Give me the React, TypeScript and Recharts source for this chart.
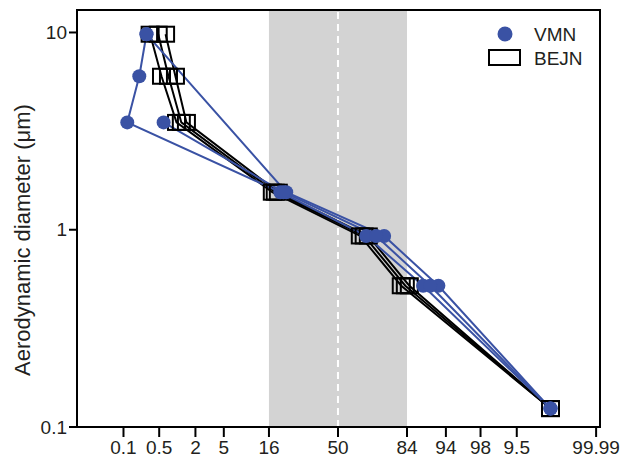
import { ComposedChart, Legend, Line, ReferenceArea, ReferenceLine, XAxis, YAxis } from "recharts";

// stage cut-off diameters (µm), top to bottom
const diameters = [9.8, 6.0, 3.5, 1.55, 0.93, 0.52, 0.124];

// cumulative % undersize per sample, null = not plotted
const vmnA = [0.29, 0.21, 0.12, 20.3, 65.8, 89.0, 99.89];
const vmnB = [0.29, null, null, 22.8, 74.7, 92.6, 99.89];
const vmnC = [null, null, 0.6, 21.6, 70.9, 90.8, 99.89];

const bejnA = [0.34, 0.55, 1.0, 17.2, 62.6, 81.9, 99.89];
const bejnB = [0.48, 0.73, 1.2, 18.3, 64.7, 83.4, 99.89];
const bejnC = [0.65, 0.96, 1.45, 19.5, 66.9, 84.8, 99.89];

const xTickValues = [0.1, 0.5, 2, 5, 16, 50, 84, 94, 98, 99.5, 99.99];
const xTickLabels = ["0.1", "0.5", "2", "5", "16", "50", "84", "94", "98", "9.5", "99.99"];
const yTicks = [0.1, 1, 10];

const BLUE = "#3a52a4";
const FONT = "'Liberation Sans', Arial, sans-serif";

// inverse normal CDF (Acklam), used to build the probability axis
const probit = (p: number) => {
    const a = [-39.69683028665376, 220.9460984245205, -275.9285104469687, 138.357751867269, -30.66479806614716, 2.506628277459239];
    const b = [-54.47609879822406, 161.5858368580409, -155.6989798598866, 66.80131188771972, -13.28068155288572];
    const c = [-0.007784894002430293, -0.3223964580411365, -2.400758277161838, -2.549671660319115, 4.374664141464968, 2.938163982698783];
    const d = [0.007784695709041462, 0.3224671290700398, 2.445134137142996, 3.754408661907416];
    const plow = 0.02425;
    if (p < plow) {
        const q = Math.sqrt(-2 * Math.log(p));
        return (((((c[0] * q + c[1]) * q + c[2]) * q + c[3]) * q + c[4]) * q + c[5]) /
            ((((d[0] * q + d[1]) * q + d[2]) * q + d[3]) * q + 1);
    }
    if (p <= 1 - plow) {
        const q = p - 0.5;
        const r = q * q;
        return (((((a[0] * r + a[1]) * r + a[2]) * r + a[3]) * r + a[4]) * r + a[5]) * q /
            (((((b[0] * r + b[1]) * r + b[2]) * r + b[3]) * r + b[4]) * r + 1);
    }
    const q = Math.sqrt(-2 * Math.log(1 - p));
    return -(((((c[0] * q + c[1]) * q + c[2]) * q + c[3]) * q + c[4]) * q + c[5]) /
        ((((d[0] * q + d[1]) * q + d[2]) * q + d[3]) * q + 1);
};

const toPoints = (pcts: (number | null)[]) =>
    pcts
        .map((p, i) => (p === null ? null : { z: probit(p / 100), d: diameters[i] }))
        .filter((pt) => pt !== null);

const vmnSeries = [vmnA, vmnB, vmnC].map(toPoints);
const bejnSeries = [bejnA, bejnB, bejnC].map(toPoints);

const X_MIN = -3.76;
const X_MAX = 3.775;
const Y_MAX = 13;

const SquareDot = (props: any) => {
    const { cx, cy, index } = props;
    if (cx == null || cy == null) return null;
    return <rect key={`sq-${index}`} x={cx - 8.5} y={cy - 7.5} width={17} height={15} fill="none" stroke="#000" strokeWidth={2} />;
};

const YLabel = () => (
    <text
        x={22}
        y={240}
        transform="rotate(-90, 22, 240)"
        textAnchor="middle"
        dominantBaseline="central"
        fontSize={22}
        fontFamily={FONT}
        fill="#231f20"
    >
        Aerodynamic diameter (μm)
    </text>
);

const LegendBox = () => (
    <svg width={130} height={50}>
        <circle cx={25} cy={14} r={7.5} fill={BLUE} />
        <text x={54} y={14} dominantBaseline="central" fontSize={19} fontFamily={FONT} fill="#231f20">VMN</text>
        <rect x={9} y={30} width={31} height={15} fill="#fff" stroke="#000" strokeWidth={2} />
        <text x={54} y={38} dominantBaseline="central" fontSize={19} fontFamily={FONT} fill="#231f20">BEJN</text>
    </svg>
);

export default function App() {
    return (
        <div style={{ position: "absolute", left: 0, top: 0, background: "#fff" }}>
            <ComposedChart width={625} height={463} margin={{ top: 10, right: 25, left: 0, bottom: 0 }}>
                <XAxis
                    type="number"
                    dataKey="z"
                    domain={[X_MIN, X_MAX]}
                    ticks={xTickValues.map((p) => probit(p / 100))}
                    tickFormatter={(_v, i) => xTickLabels[i]}
                    interval={0}
                    allowDataOverflow
                    height={36}
                    tickSize={10}
                    tickMargin={4}
                    stroke="#000"
                    strokeWidth={2}
                    tick={{ fontSize: 19, fontFamily: FONT, fill: "#231f20" }}
                />
                <YAxis
                    type="number"
                    dataKey="d"
                    scale="log"
                    domain={[0.1, Y_MAX]}
                    ticks={yTicks}
                    tickFormatter={(v) => String(v)}
                    allowDataOverflow
                    width={77}
                    tickSize={8}
                    tickMargin={2}
                    stroke="#000"
                    strokeWidth={2}
                    tick={{ fontSize: 19, fontFamily: FONT, fill: "#231f20" }}
                    label={<YLabel />}
                />
                <ReferenceArea x1={probit(0.16)} x2={probit(0.84)} y1={0.1} y2={Y_MAX} fill="#d3d3d3" fillOpacity={1} stroke="none" />
                <ReferenceLine x={0} stroke="#fff" strokeWidth={2} strokeDasharray="7 5" />
                <ReferenceArea x1={X_MIN} x2={X_MAX} y1={0.1} y2={Y_MAX} fill="none" stroke="#000" strokeWidth={2} />
                {bejnSeries.map((pts, i) => (
                    <Line
                        key={`bejn-${i}`}
                        data={pts}
                        dataKey="d"
                        stroke="#000"
                        strokeWidth={2}
                        dot={<SquareDot />}
                        isAnimationActive={false}
                        legendType="none"
                    />
                ))}
                {vmnSeries.map((pts, i) => (
                    <Line
                        key={`vmn-${i}`}
                        data={pts}
                        dataKey="d"
                        stroke={BLUE}
                        strokeWidth={2}
                        dot={{ r: 7, fill: BLUE, stroke: BLUE, strokeWidth: 0 }}
                        isAnimationActive={false}
                        legendType="none"
                    />
                ))}
                <Legend
                    layout="horizontal"
                    verticalAlign="middle"
                    align="center"
                    content={<LegendBox />}
                    wrapperStyle={{ top: 20, left: 480, width: 130, height: 50 }}
                />
            </ComposedChart>
        </div>
    );
}
